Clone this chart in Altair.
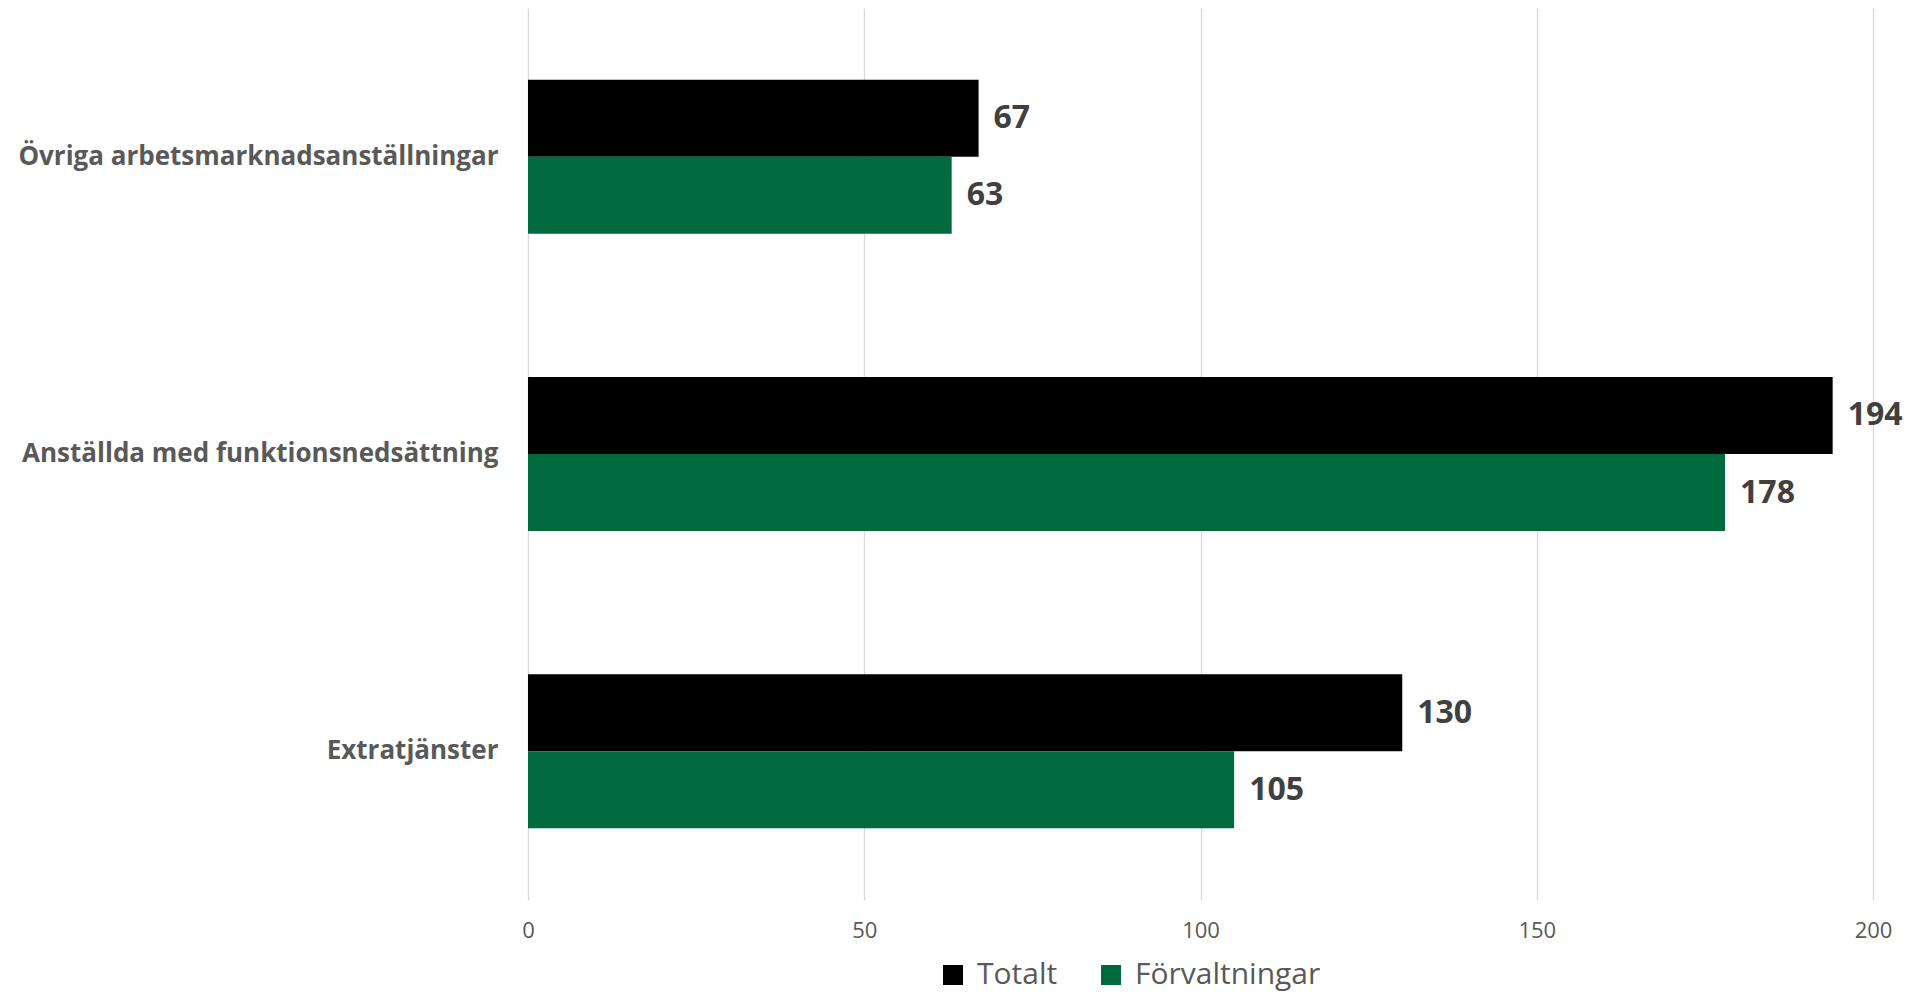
import altair as alt
import pandas as pd

categories = ["Övriga arbetsmarknadsanställningar", "Anställda med funktionsnedsättning", "Extratjänster"]
series = ["Totalt", "Förvaltningar"]
totalt = [67, 194, 130]
forvaltningar = [63, 178, 105]
colors = ["#000000", "#00693E"]
x_ticks = [0, 50, 100, 150, 200]

rows = []
for c, t, f in zip(categories, totalt, forvaltningar):
    rows.append({"Kategori": c, "Serie": "Totalt", "Värde": t})
    rows.append({"Kategori": c, "Serie": "Förvaltningar", "Värde": f})
df = pd.DataFrame(rows)

FONT = "Open Sans"

y_enc = alt.Y("Kategori:N", sort=categories,
              scale=alt.Scale(paddingInner=0.482, paddingOuter=0.241),
              axis=alt.Axis(title=None, domain=False, ticks=False, labelPadding=30,
                            labelFont=FONT, labelFontSize=26, labelFontWeight="bold",
                            labelColor="#595959", labelLimit=700))
yoff = alt.YOffset("Serie:N", sort=series, scale=alt.Scale(paddingInner=0, paddingOuter=0))
x_enc = alt.X("Värde:Q", scale=alt.Scale(domain=[0, 200], nice=False),
              axis=alt.Axis(title=None, values=x_ticks, domain=False, ticks=False,
                            grid=True, gridColor="#D9D9D9", gridWidth=1.3,
                            labelFont=FONT, labelFontSize=22, labelColor="#595959",
                            labelPadding=20, labelFlush=False))

bars = alt.Chart(df).mark_bar(cornerRadius=0).encode(
    y=y_enc, yOffset=yoff, x=x_enc,
    color=alt.Color("Serie:N", sort=series,
                    scale=alt.Scale(domain=series, range=colors),
                    legend=alt.Legend(title=None, orient="none", direction="horizontal",
                                      legendX=410, legendY=952,
                                      symbolType="square", symbolSize=400,
                                      symbolStrokeWidth=0, labelFont=FONT,
                                      labelFontSize=30, labelColor="#595959",
                                      labelOffset=9, columnPadding=38,
                                      labelLimit=500))
)

labels = alt.Chart(df).mark_text(align="left", baseline="middle", dx=15,
                                 font=FONT, fontSize=32, fontWeight="bold",
                                 color="#404040").encode(
    y=alt.Y("Kategori:N", sort=categories), yOffset=yoff,
    x=alt.X("Värde:Q"), text=alt.Text("Värde:Q")
)

chart = (bars + labels).properties(
    width=1345, height=892,
    autosize=alt.AutoSizeParams(type="none"),
    padding={"left": 520, "top": 0, "right": 35, "bottom": 100},
).configure_view(stroke=None)

chart.save("out.html", embed_options={"renderer": "svg", "actions": False})
